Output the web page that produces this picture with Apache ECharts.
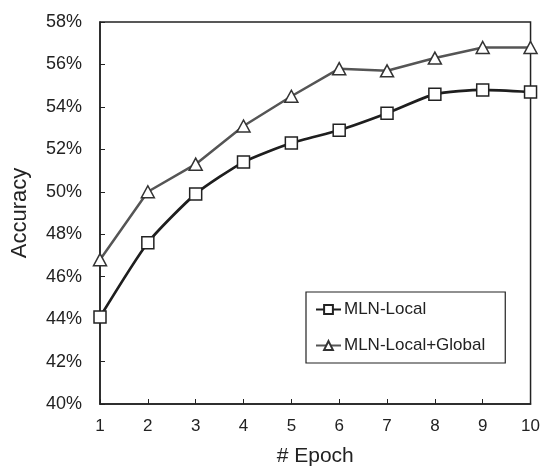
<!DOCTYPE html>
<html><head><meta charset="utf-8">
<script src="https://cdn.jsdelivr.net/npm/echarts@6/dist/echarts.min.js"></script>
<style>html,body{margin:0;padding:0;background:#fff}#c{width:543px;height:472px}</style>
</head><body><div id="c"></div>
<script>
const epochs = [1,2,3,4,5,6,7,8,9,10];
const mlnLocal = [44.1, 47.6, 49.9, 51.4, 52.3, 52.9, 53.7, 54.6, 54.8, 54.7];
const mlnLocalGlobal = [46.8, 50.0, 51.3, 53.1, 54.5, 55.8, 55.7, 56.3, 56.8, 56.8];
const seriesNames = ['MLN-Local', 'MLN-Local+Global'];

const font = 'Liberation Sans, Arial, sans-serif';
const chart = echarts.init(document.getElementById('c'));
chart.setOption({
  animation: false,
  backgroundColor: '#fff',
  grid: {left: 100, right: 11, top: 22, bottom: 64, show: true, borderColor: '#222', borderWidth: 1.5, containLabel: false},
  xAxis: {
    type: 'value', min: 1, max: 10, interval: 1,
    name: '# Epoch', nameLocation: 'middle', nameGap: 42,
    nameTextStyle: {fontFamily: font, fontSize: 21, color: '#222'},
    axisLine: {lineStyle: {color: '#222', width: 1.5}},
    axisTick: {inside: true, length: 5, lineStyle: {color: '#222', width: 1}},
    axisLabel: {fontFamily: font, fontSize: 17, color: '#222', margin: 14},
    splitLine: {show: false}
  },
  yAxis: {
    type: 'value', min: 40, max: 58, interval: 2,
    name: 'Accuracy', nameLocation: 'middle', nameGap: 69, nameRotate: 90,
    nameTextStyle: {fontFamily: font, fontSize: 22, color: '#222'},
    axisLine: {show: true, lineStyle: {color: '#222', width: 1.5}},
    axisTick: {show: true, inside: true, length: 5, lineStyle: {color: '#222', width: 1}},
    axisLabel: {fontFamily: font, fontSize: 18, color: '#222', margin: 18, formatter: '{value}%'},
    splitLine: {show: false}
  },
  legend: {
    orient: 'vertical', left: 306, top: 292,
    padding: [9, 20, 9, 9], itemGap: 19,
    borderColor: '#222', borderWidth: 1.2, backgroundColor: '#fff',
    itemWidth: 25, itemHeight: 11,
    textStyle: {fontFamily: font, fontSize: 17, color: '#222', padding: [0,0,0,-2]},
    data: seriesNames
  },
  series: [
    {
      name: seriesNames[0], type: 'line', smooth: 0.2,
      data: epochs.map((e, i) => [e, mlnLocal[i]]),
      symbol: 'rect', symbolSize: 12,
      lineStyle: {color: '#1e1e1e', width: 2.7},
      itemStyle: {color: '#fff', borderColor: '#222', borderWidth: 1.5},
      z: 3
    },
    {
      name: seriesNames[1], type: 'line',
      data: epochs.map((e, i) => [e, mlnLocalGlobal[i]]),
      symbol: 'triangle', symbolSize: [13, 12],
      lineStyle: {color: '#555', width: 2.5},
      itemStyle: {color: '#fff', borderColor: '#333', borderWidth: 1.5},
      z: 3
    }
  ]
});
</script></body></html>
